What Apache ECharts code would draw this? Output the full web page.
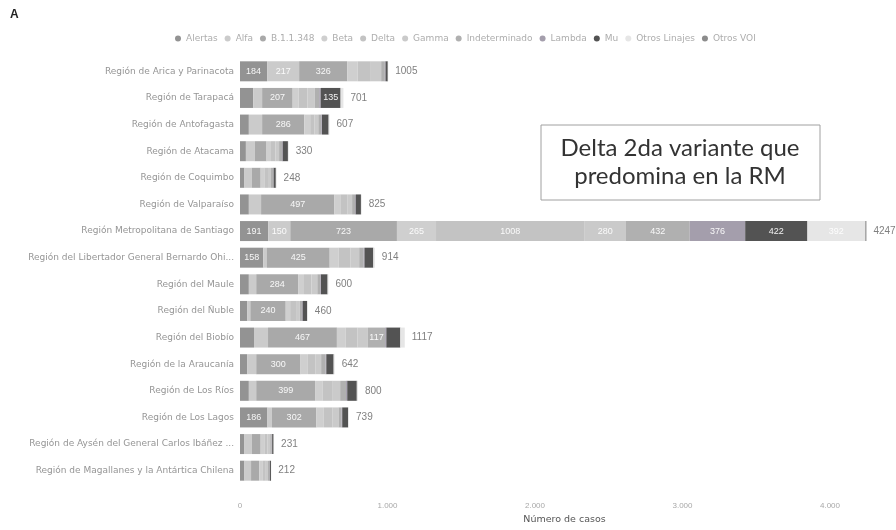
<!DOCTYPE html>
<html><head><meta charset="utf-8">
<script src="https://cdn.jsdelivr.net/npm/echarts@6/dist/echarts.min.js"></script>
<style>html,body{margin:0;padding:0;background:#fff}#c{width:896px;height:530px}</style>
</head><body><div id="c"></div>
<script>
const regions = [
  "Región de Arica y Parinacota","Región de Tarapacá","Región de Antofagasta","Región de Atacama",
  "Región de Coquimbo","Región de Valparaíso","Región Metropolitana de Santiago",
  "Región del Libertador General Bernardo Ohi...","Región del Maule","Región del Ñuble",
  "Región del Biobío","Región de la Araucanía","Región de Los Ríos","Región de Los Lagos",
  "Región de Aysén del General Carlos Ibáñez ...","Región de Magallanes y la Antártica Chilena"
];
const seriesNames = ["Alertas","Alfa","B.1.1.348","Beta","Delta","Gamma","Indeterminado","Lambda","Mu","Otros Linajes","Otros VOI"];
const alertas       = [184, 90, 60, 40, 30, 60, 191, 158, 60, 50, 95, 50, 60, 186, 30, 30];
const alfa          = [217, 60, 90, 60, 50, 83, 150, 25, 50, 20, 95, 60, 50, 30, 50, 45];
const b11348        = [326, 207, 286, 80, 60, 497, 723, 425, 284, 240, 467, 300, 399, 302, 60, 55];
const beta          = [70, 40, 40, 30, 25, 40, 265, 60, 40, 30, 60, 50, 50, 50, 25, 25];
const delta         = [90, 60, 30, 30, 25, 50, 1008, 80, 50, 40, 80, 50, 70, 60, 20, 20];
const gamma         = [70, 50, 25, 25, 20, 30, 280, 60, 40, 25, 70, 40, 50, 40, 20, 15];
const indeterminado = [25, 30, 20, 20, 15, 20, 432, 30, 20, 15, 117, 30, 40, 20, 10, 10];
const lambda        = [5, 10, 5, 5, 3, 5, 376, 6, 5, 5, 8, 5, 8, 5, 3, 2];
const mu            = [15, 135, 45, 35, 15, 35, 422, 60, 45, 30, 95, 50, 65, 40, 10, 8];
const otrosLinajes  = [3, 19, 6, 5, 5, 5, 392, 10, 6, 5, 30, 7, 8, 6, 3, 2];
const otrosVOI      = [0, 0, 0, 0, 0, 0, 8, 0, 0, 0, 0, 0, 0, 0, 0, 0];
const totals        = [1005, 701, 607, 330, 248, 825, 4247, 914, 600, 460, 1117, 642, 800, 739, 231, 212];
const xTicks = ["0","1.000","2.000","3.000","4.000"];

const seriesData = [alertas, alfa, b11348, beta, delta, gamma, indeterminado, lambda, mu, otrosLinajes, otrosVOI];
const colors = ["#939393","#cbcbcb","#a9a9a9","#cfcfcf","#c3c3c3","#cacaca","#b0b0b0","#a49eac","#535353","#e6e6e6","#8c8c8c"];

const cats = regions.slice().reverse();
const rev = a => a.slice().reverse();
const totalsR = rev(totals);

const series = seriesNames.map((n, i) => ({
  name: n, type: 'bar', stack: 'all', barWidth: 20,
  itemStyle: {color: colors[i]},
  label: {show: true, position: 'inside', color: 'rgba(255,255,255,0.92)', fontSize: 9, fontFamily: 'Liberation Sans',
    formatter: p => p.value >= 110 ? String(p.value) : ''},
  data: rev(seriesData[i])
}));
series.push({
  name: 'total', type: 'bar', stack: 'all', barWidth: 20,
  itemStyle: {color: 'transparent'},
  label: {show: true, position: 'right', distance: 7, color: '#808080', fontSize: 10, fontFamily: 'Liberation Sans',
    formatter: p => String(totalsR[p.dataIndex])},
  data: totalsR.map(() => 0)
});

const chart = echarts.init(document.getElementById('c'));
chart.setOption({
  backgroundColor: '#ffffff',
  animation: false,
  color: colors,
  legend: {
    data: seriesNames, top: 29, left: 170, icon: 'circle', itemWidth: 6, itemHeight: 6, itemGap: 7,
    textStyle: {color: '#adadad', fontSize: 9, fontFamily: 'DejaVu Sans'}
  },
  grid: {left: 240, right: 7, top: 58, bottom: 42, containLabel: false},
  xAxis: {
    type: 'value', min: 0, max: 4400, interval: 1000,
    axisLine: {show: false}, axisTick: {show: false}, splitLine: {show: false},
    axisLabel: {color: '#a8a8a8', fontSize: 8, fontFamily: 'Liberation Sans', margin: 18, showMaxLabel: false,
      formatter: v => xTicks[v / 1000] || ''},
    name: 'Número de casos', nameLocation: 'middle', nameGap: 31,
    nameTextStyle: {color: '#555', fontSize: 9.5, fontFamily: 'DejaVu Sans'}
  },
  yAxis: {
    type: 'category', data: cats,
    axisLine: {show: false}, axisTick: {show: false},
    axisLabel: {color: '#959595', fontSize: 9, fontFamily: 'DejaVu Sans', margin: 6}
  },
  graphic: [
    {type: 'text', left: 10, top: 9, style: {text: 'A', fill: '#222', font: 'bold 12px Liberation Sans'}},
    {type: 'rect', shape: {x: 541, y: 125, width: 279, height: 75},
     style: {fill: '#fff', stroke: '#a0a0a0', lineWidth: 1}},
    {type: 'text', x: 680, y: 148, style: {text: 'Delta 2da variante que', fill: '#333', font: '24px Lato', align: 'center', verticalAlign: 'middle'}},
    {type: 'text', x: 680, y: 176, style: {text: 'predomina en la RM', fill: '#333', font: '24px Lato', align: 'center', verticalAlign: 'middle'}}
  ],
  series: series
});
</script></body></html>
